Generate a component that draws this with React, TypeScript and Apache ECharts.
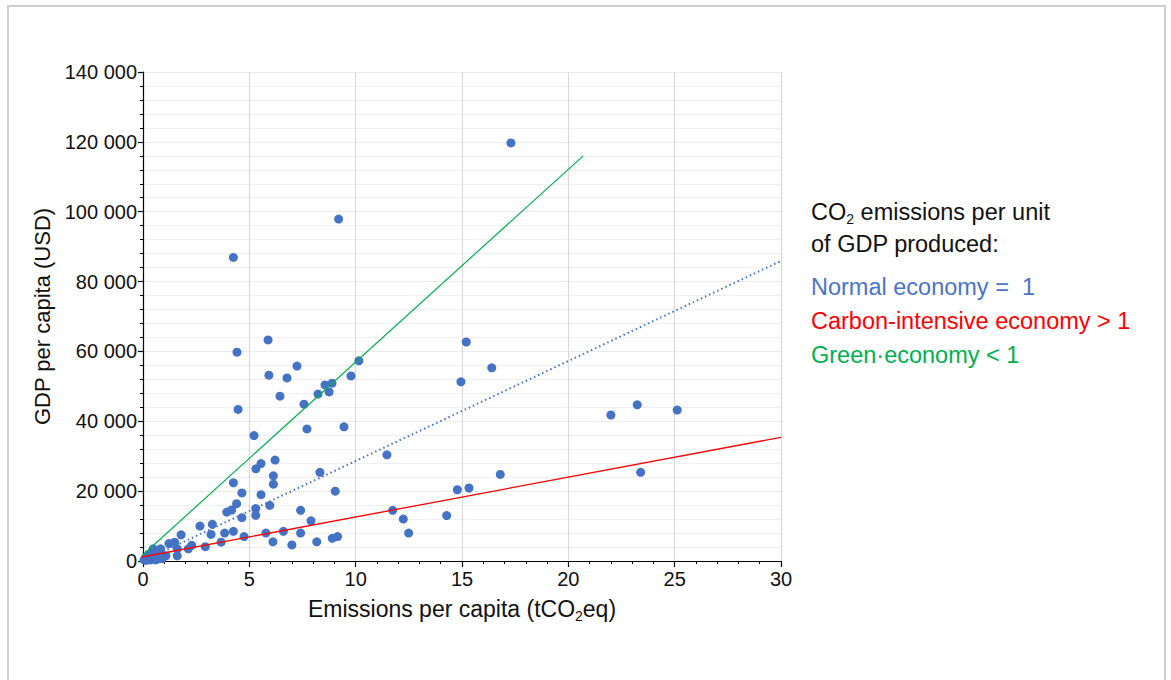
import React, { useEffect, useRef } from "react";
import * as echarts from "echarts";

// ---- data ----
const points: [number, number][] = [
  [17.3, 119700], [9.2, 97900], [4.25, 86900], [5.88, 63300], [15.2, 62700],
  [4.42, 59800], [10.15, 57300], [7.24, 55800], [16.4, 55300], [5.92, 53200],
  [9.78, 53000], [6.77, 52400], [14.95, 51300], [8.89, 50900], [8.56, 50400],
  [8.75, 48400], [8.23, 47800], [6.44, 47200], [7.57, 44900], [23.24, 44700],
  [4.47, 43400], [25.12, 43200], [22.0, 41800], [9.45, 38400], [7.71, 37800],
  [5.22, 35900], [11.47, 30400], [6.21, 28900], [5.55, 27900], [5.31, 26400],
  [8.32, 25400], [16.8, 24800], [23.4, 25400], [6.13, 24400], [4.25, 22400],
  [6.13, 22000], [15.33, 20900], [14.78, 20400], [9.04, 20000], [4.65, 19500],
  [5.55, 19000], [4.4, 16400], [5.96, 15900], [5.3, 15000], [4.17, 14600],
  [11.74, 14500], [7.41, 14500], [3.94, 14000], [5.3, 13100], [14.28, 13000],
  [4.65, 12400], [12.24, 12000], [7.9, 11500], [3.26, 10500], [2.68, 10000],
  [4.25, 8500], [6.6, 8500], [3.84, 8000], [5.78, 8000], [7.41, 8000],
  [12.49, 8000], [3.2, 7600], [1.79, 7500], [4.75, 7000], [9.15, 7000],
  [8.9, 6500], [6.11, 5500], [8.17, 5500], [3.67, 5400], [1.49, 5400],
  [1.22, 5000], [7.0, 4600], [2.29, 4500], [2.93, 4100], [2.13, 3500],
  [1.61, 3500], [0.83, 3500], [0.48, 3500], [1.61, 1500], [1.08, 1500],
  [0.64, 1700], [0.05, 300], [0.1, 800], [0.2, 500], [0.3, 1200],
  [0.35, 300], [0.5, 900], [0.7, 600], [0.8, 1300], [0.45, 2200],
  [0.25, 1800], [0.9, 700], [0.15, 200], [0.6, 300],
];

const greenLine: [number, number][] = [[-0.2, 700], [20.7, 116000]];
const blueLine: [number, number][] = [[0, 0], [30, 85900]];
const redLine: [number, number][] = [[-0.38, 770], [30, 35400]];

const xRange = { min: 0, max: 30, interval: 5 };
const yRange = { min: 0, max: 140000, interval: 20000 };

const xTitle = "{a|Emissions per capita (tCO}{s|2}{a|eq)}";
const yTitle = "GDP per capita (USD)";
const legendHeader1 = "{a|CO}{s|2}{a| emissions per unit}";
const legendHeader2 = "of GDP produced:";
const legendNormal = "Normal economy =  1";
const legendCarbon = "Carbon-intensive economy > 1";
const legendGreen = "Green\u00b7economy < 1";

const FONT = "'Liberation Sans', Arial, Helvetica, sans-serif";
const BLUE = "#4472c4";
const RED = "#ff0000";
const GREEN = "#00b050";
const LEGEND_SIZE = 23.5;

const formatThousands = (v: number) =>
  String(v).replace(/\B(?=(\d{3})+(?!\d))/g, " ");

export default function App() {
  const ref = useRef<HTMLDivElement>(null);

  useEffect(() => {
    if (!ref.current) return;
    const chart = echarts.init(ref.current, undefined, { renderer: "svg" });

    const subRich = (size: number, color: string) => ({
      a: { fontSize: size, fontFamily: FONT, color, lineHeight: 28, verticalAlign: "middle" },
      s: { fontSize: Math.round(size * 0.6), fontFamily: FONT, color, lineHeight: 12, verticalAlign: "bottom" },
    });

    const legendText = (text: string, y: number, color: string, rich?: any) => ({
      type: "text",
      x: 811,
      y,
      style: {
        text,
        fill: color,
        fontSize: LEGEND_SIZE,
        fontFamily: FONT,
        verticalAlign: "middle",
        align: "left",
        ...(rich ? { rich } : {}),
      },
    });

    chart.setOption({
      animation: false,
      backgroundColor: "#ffffff",
      grid: { left: 143, right: 390, top: 72, bottom: 119, containLabel: false },
      xAxis: {
        type: "value",
        min: xRange.min,
        max: xRange.max,
        interval: xRange.interval,
        name: xTitle,
        nameLocation: "middle",
        nameGap: 34,
        nameTextStyle: { rich: subRich(23, "#111") },
        axisLine: { show: true, onZero: false, lineStyle: { color: "#000", width: 1.2 } },
        axisTick: { show: true, length: 6, lineStyle: { color: "#000", width: 1.2 } },
        minorTick: { show: true, splitNumber: 5, length: 3, lineStyle: { color: "#000", width: 1 } },
        splitLine: { show: true, lineStyle: { color: "#d9d9d9", width: 1.2 } },
        minorSplitLine: { show: false },
        axisLabel: { fontSize: 20, fontFamily: FONT, color: "#111", margin: 8 },
      },
      yAxis: {
        type: "value",
        min: yRange.min,
        max: yRange.max,
        interval: yRange.interval,
        name: yTitle,
        nameLocation: "middle",
        nameGap: 90,
        nameTextStyle: { fontSize: 22, fontFamily: FONT, color: "#111" },
        axisLine: { show: true, onZero: true, lineStyle: { color: "#000", width: 1.2 } },
        axisTick: { show: true, length: 5, lineStyle: { color: "#000", width: 1.2 } },
        minorTick: { show: true, splitNumber: 5, length: 3, lineStyle: { color: "#000", width: 1 } },
        splitLine: { show: true, lineStyle: { color: "#ebebeb", width: 1.2 } },
        minorSplitLine: { show: true, lineStyle: { color: "#efefef", width: 1.2 } },
        axisLabel: {
          fontSize: 20,
          fontFamily: FONT,
          color: "#111",
          margin: 6,
          formatter: (v: number) => formatThousands(v),
        },
      },
      series: [
        {
          type: "scatter",
          data: points,
          symbol: "circle",
          symbolSize: 9,
          itemStyle: { color: BLUE, opacity: 1 },
          z: 3,
        },
        {
          type: "line",
          data: greenLine,
          symbol: "none",
          clip: false,
          lineStyle: { color: GREEN, width: 1.2 },
          z: 4,
        },
        {
          type: "line",
          data: blueLine,
          symbol: "none",
          clip: false,
          lineStyle: { color: BLUE, width: 2, type: [1.5, 3] },
          z: 4,
        },
        {
          type: "line",
          data: redLine,
          symbol: "none",
          clip: false,
          lineStyle: { color: RED, width: 1.3 },
          z: 4,
        },
      ],
      graphic: [
        {
          type: "rect",
          shape: { x: 8, y: 6, width: 1157, height: 720 },
          style: { fill: "none", stroke: "#cfcfcf", lineWidth: 2 },
          silent: true,
          z: -1,
        },
        legendText(legendHeader1, 212, "#111", subRich(LEGEND_SIZE, "#111")),
        legendText(legendHeader2, 244, "#111"),
        legendText(legendNormal, 287, "#4a74c8"),
        legendText(legendCarbon, 321, RED),
        legendText(legendGreen, 355, GREEN),
      ],
    });

    return () => chart.dispose();
  }, []);

  return (
    <div
      ref={ref}
      style={{ position: "fixed", left: 0, top: 0, width: 1171, height: 680 }}
    />
  );
}
